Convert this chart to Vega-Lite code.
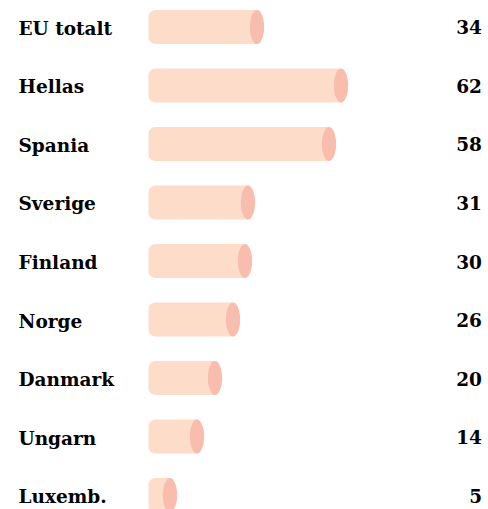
{
  "$schema": "https://vega.github.io/schema/vega-lite/v6.json",
  "autosize": {"type": "none"},
  "padding": {"left": 149, "top": 0, "right": 6, "bottom": 0},
  "width": 333,
  "height": 522,
  "background": "white",
  "config": {"view": {"stroke": null}},
  "data": {
    "values": [
      {"land": "EU totalt", "verdi": 34},
      {"land": "Hellas", "verdi": 62},
      {"land": "Spania", "verdi": 58},
      {"land": "Sverige", "verdi": 31},
      {"land": "Finland", "verdi": 30},
      {"land": "Norge", "verdi": 26},
      {"land": "Danmark", "verdi": 20},
      {"land": "Ungarn", "verdi": 14},
      {"land": "Luxemb.", "verdi": 5}
    ]
  },
  "encoding": {
    "y": {
      "field": "land",
      "type": "nominal",
      "sort": null,
      "scale": {"type": "point", "padding": 0.4615},
      "axis": {
        "title": null,
        "domain": false,
        "ticks": false,
        "tickSize": 0,
        "grid": false,
        "labelAlign": "left",
        "labelPadding": 131,
        "labelOffset": 1.5,
        "labelFont": "DejaVu Serif",
        "labelFontWeight": "bold",
        "labelFontSize": 18.5,
        "labelColor": "#000000",
        "labelBaseline": "middle"
      }
    }
  },
  "layer": [
    {
      "mark": {
        "type": "bar",
        "color": "#fddcca",
        "height": 34,
        "x2Offset": -6.5,
        "cornerRadiusTopLeft": 7,
        "cornerRadiusBottomLeft": 7
      },
      "encoding": {
        "x": {
          "field": "verdi",
          "type": "quantitative",
          "scale": {"domain": [-2, 109], "zero": false, "nice": false},
          "axis": null
        },
        "x2": {"datum": 0}
      }
    },
    {
      "mark": {
        "type": "point",
        "filled": true,
        "opacity": 1,
        "color": "#f9bdad",
        "size": 1156,
        "shape": "M-0.42,0A0.42,1,0,1,0,0.42,0A0.42,1,0,1,0,-0.42,0Z"
      },
      "encoding": {
        "x": {"field": "verdi", "type": "quantitative"}
      }
    },
    {
      "mark": {
        "type": "text",
        "align": "right",
        "baseline": "middle",
        "dy": 1.5,
        "font": "DejaVu Serif",
        "fontWeight": "bold",
        "fontSize": 18.5,
        "color": "#000000"
      },
      "encoding": {
        "x": {"value": "width"},
        "text": {"field": "verdi", "type": "quantitative"}
      }
    }
  ]
}
